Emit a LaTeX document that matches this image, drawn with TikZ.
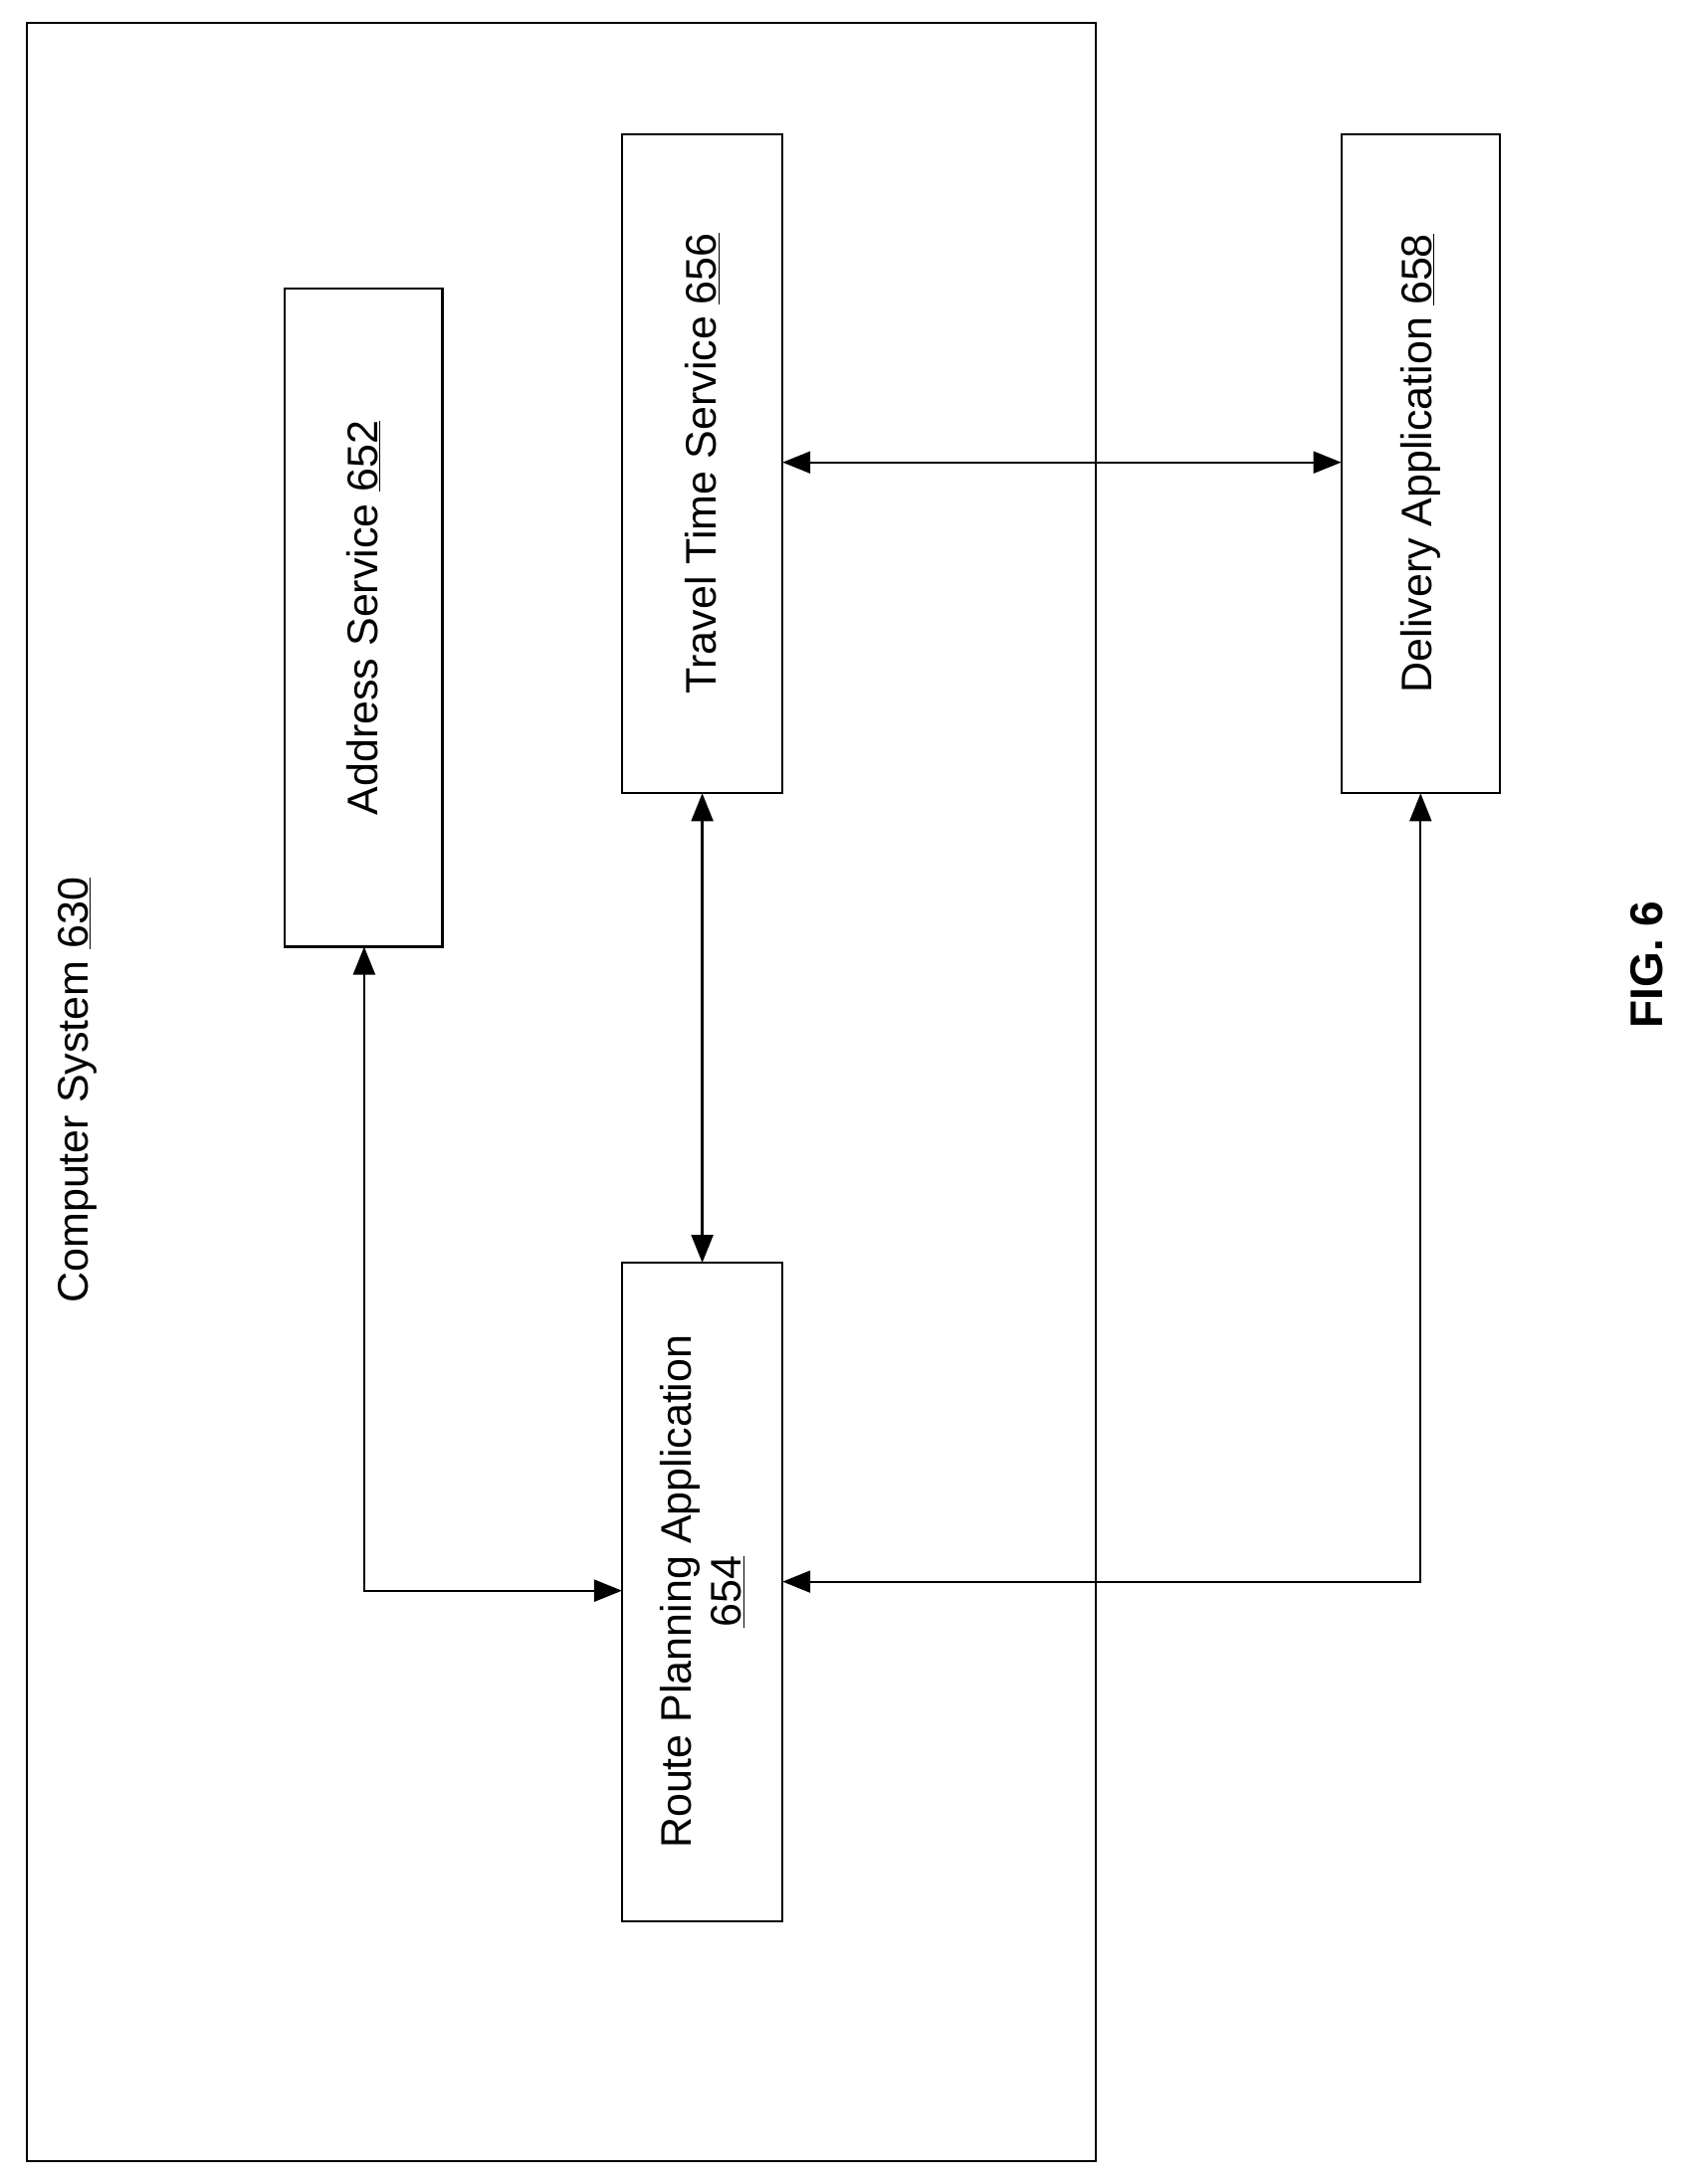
\documentclass[tikz,border=0pt]{standalone}
\usepackage{fontspec}
\setmainfont{Liberation Sans}
\usetikzlibrary{arrows.meta}
\begin{document}
\begin{tikzpicture}[x=1pt,y=-1pt,
 box/.style={draw,line width=2.2pt},
 lbl/.style={font=\fontsize{43}{50}\selectfont,rotate=90,align=center},
 arr/.style={line width=2.2pt,{Triangle[length=28pt,width=22pt]}-{Triangle[length=28pt,width=22pt]}}]
\useasboundingbox (0,0) rectangle (1695,2195);
\begin{scope}[xshift=2pt,yshift=-2pt,x=1.008pt,y=-1.008pt]
\draw[box] (25,21) rectangle (1090,2153);
\node[lbl] (cs) at (75,1085) {Computer System \underline{630}};
\draw[box] (282,286) rectangle (439,942);
\node[lbl] (as) at (360,614) {Address Service \underline{652}};
\draw[box] (618,132) rectangle (778,789);
\node[lbl] (tt) at (698,460) {Travel Time Service \underline{656}};
\draw[box] (1335,132) rectangle (1493,789);
\node[lbl] (da) at (1414,460) {Delivery Application \underline{658}};
\draw[box] (618,1257) rectangle (778,1914);
\node[lbl] (rp) at (698,1585) {Route Planning Application\\\underline{654}};
\node[font=\bfseries\fontsize{46}{50}\selectfont,rotate=90] (fig) at (1640,960) {FIG. 6};
\draw[arr] (361,942) -- (361,1584) -- (618,1584);
\draw[arr] (698,789) -- (698,1257);
\draw[arr] (778,459) -- (1335,459);
\draw[arr] (1414,789) -- (1414,1575) -- (778,1575);
\end{scope}
\end{tikzpicture}
\end{document}
